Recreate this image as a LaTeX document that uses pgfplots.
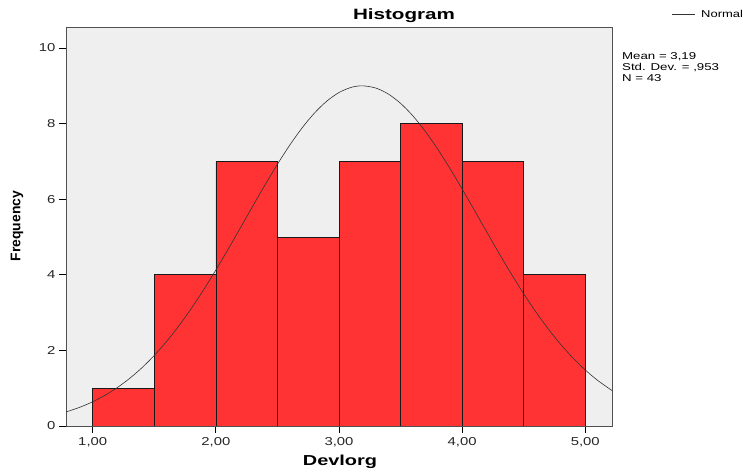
\documentclass[border=0pt]{standalone}
\usepackage{pgfplots}
\pgfplotsset{compat=1.18}
\usepackage{fontspec}
\setmainfont{Liberation Sans}
\definecolor{barred}{RGB}{255,51,51}
\definecolor{bgray}{RGB}{239,239,239}
\definecolor{frame}{RGB}{80,80,80}
\newcommand{\wide}[1]{\scalebox{1.3}[1]{#1}}
\begin{document}
\begin{tikzpicture}
\path[use as bounding box] (0,0) rectangle (743bp,473bp);
\begin{axis}[
  at={(66bp,47bp)}, anchor=south west,
  scale only axis, width=546bp, height=398bp,
  xmin=0.783, xmax=5.217, ymin=0, ymax=10.53,
  axis background/.style={fill=bgray},
  axis line style={frame, line width=1pt},
  tick align=outside, xtick pos=bottom, ytick pos=left,
  major tick length=7bp,
  major tick style={black, line width=1pt},
  xtick={1,2,3,4,5}, xticklabels={\wide{1,00},\wide{2,00},\wide{3,00},\wide{4,00},\wide{5,00}},
  ytick={0,2,4,6,8,10},
  yticklabels={\wide{0},\wide{2},\wide{4},\wide{6},\wide{8},\wide{10}},
  tick label style={font=\fontsize{11.5}{12}\selectfont, text=black!85},
  xticklabel style={yshift=-1bp},
  clip=true,
]
\addplot[ybar interval, fill=barred, draw=black!90, line width=0.7pt] coordinates {
(1.0,1) (1.5,4) (2.0,7) (2.5,5) (3.0,7) (3.5,8) (4.0,7) (4.5,4) (5.0,4)};
\addplot[smooth, black!80, line width=0.6pt] coordinates {
(0.78,0.3676) (0.9,0.5015) (1.0,0.6420) (1.1,0.8125) (1.2,1.0173) (1.3,1.2596)
(1.4,1.5422) (1.5,1.8680) (1.6,2.2377) (1.7,2.6513) (1.8,3.1065) (1.9,3.6007)
(2.0,4.1274) (2.1,4.6792) (2.2,5.2468) (2.3,5.8188) (2.4,6.3827) (2.5,6.9249)
(2.6,7.4307) (2.7,7.8854) (2.8,8.2772) (2.9,8.5928) (3.0,8.8229) (3.1,8.9600)
(3.19,9.0002) (3.3,8.9404) (3.4,8.7843) (3.5,8.5364) (3.6,8.2049) (3.7,7.7994)
(3.8,7.3332) (3.9,6.8193) (4.0,6.2714) (4.1,5.7048) (4.2,5.1330) (4.3,4.5676)
(4.4,4.0198) (4.5,3.4988) (4.6,3.0124) (4.7,2.5653) (4.8,2.1603) (4.9,1.7996)
(5.0,1.4824) (5.1,1.2078) (5.22,0.9311)};
\end{axis}
\node[font=\bfseries\fontsize{15}{17}\selectfont] at (404bp,457bp) {\scalebox{1.38}[1]{Histogram}};
\node[font=\bfseries\fontsize{14.5}{16}\selectfont] at (340bp,11bp) {\scalebox{1.38}[1]{Devlorg}};
\node[font=\bfseries\fontsize{14}{16}\selectfont, rotate=90] at (17bp,247bp) {Frequency};
\draw[black!80, line width=0.6pt] (672bp,459bp) -- (695bp,459bp);
\node[anchor=west, inner sep=0pt, font=\fontsize{10}{10}\selectfont] at (701bp,459bp) {\wide{Normal}};
\node[anchor=north west, inner sep=0pt, align=left, font=\fontsize{10}{11}\selectfont] at (622bp,421bp) {\scalebox{1.33}[1]{Mean = 3,19}\\\scalebox{1.33}[1]{Std. Dev. = ,953}\\\scalebox{1.33}[1]{N = 43}};
\end{tikzpicture}
\end{document}
